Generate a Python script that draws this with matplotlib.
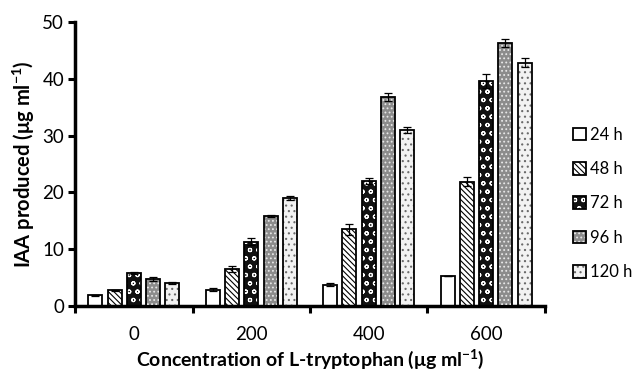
import numpy as np
import matplotlib
matplotlib.use('Agg')
from matplotlib import pyplot as plt
from matplotlib.patches import Patch
from matplotlib.legend_handler import HandlerTuple

plt.rcParams['font.family'] = ['Lato', 'DejaVu Sans']
plt.rcParams['mathtext.fontset'] = 'custom'
plt.rcParams['mathtext.rm'] = 'Lato'
plt.rcParams['mathtext.bf'] = 'Lato:bold'
plt.rcParams['hatch.linewidth'] = 0.8

# Data
concentrations = ['0', '200', '400', '600']
hours = ['24 h', '48 h', '72 h', '96 h', '120 h']
iaa_24 = [1.9, 2.9, 3.8, 5.3]
iaa_48 = [2.8, 6.5, 13.5, 21.9]
iaa_72 = [5.8, 11.3, 22.0, 39.6]
iaa_96 = [4.8, 15.9, 36.7, 46.3]
iaa_120 = [4.1, 19.0, 31.0, 42.8]
err_24 = [0.1, 0.3, 0.2, 0.0]
err_48 = [0.1, 0.5, 1.0, 0.8]
err_72 = [0.2, 0.6, 0.6, 1.2]
err_96 = [0.4, 0.2, 0.7, 0.7]
err_120 = [0.2, 0.4, 0.5, 0.8]
iaa = [iaa_24, iaa_48, iaa_72, iaa_96, iaa_120]
err = [err_24, err_48, err_72, err_96, err_120]

# styles: facecolor, hatch, hatch colour
styles = [
    ('white', '', 'black'),
    ('white', '\\\\\\\\\\\\', 'black'),
    ('#111111', 'oo', 'white'),
    ('#8c8c8c', '....', '#e8e8e8'),
    ('#f2f2f2', '...', '#6a6a6a'),
]

fig = plt.figure(figsize=(6.32, 3.77), dpi=100)
ax = fig.add_axes([0.119, 0.188, 0.743, 0.754])

x = np.arange(len(concentrations))
step = 0.164
width = 0.12
for i, h in enumerate(hours):
    pos = x + (i - 2) * step
    fc, hatch, hc = styles[i]
    ax.bar(pos, iaa[i], width, color=fc, edgecolor='none', zorder=2)
    if hatch:
        ax.bar(pos, iaa[i], width, color='none', edgecolor=hc, hatch=hatch, linewidth=0, zorder=3)
    ax.bar(pos, iaa[i], width, color='none', edgecolor='black', linewidth=1.3, zorder=4)
    ax.errorbar(pos, iaa[i], yerr=err[i], fmt='none', ecolor='black', elinewidth=0.9,
                capsize=3, capthick=0.9, zorder=5)

ax.set_xlim(-0.5, 3.5)
ax.set_ylim(0, 50)
ax.set_yticks([0, 10, 20, 30, 40, 50])
ax.set_xticks(x)
ax.set_xticklabels(concentrations)
ax.set_xticks([-0.5, 0.5, 1.5, 2.5, 3.5], minor=True)
ax.tick_params(axis='x', which='major', length=0, pad=14, labelsize=13.5)
ax.tick_params(axis='x', which='minor', length=5, width=2.2, direction='out')
ax.tick_params(axis='y', length=5, width=2.2, labelsize=13.5, pad=3)

for s in ['top', 'right']:
    ax.spines[s].set_visible(False)
for s in ['left', 'bottom']:
    ax.spines[s].set_linewidth(2.5)

ax.set_ylabel('IAA produced (\u03bcg ml$^{\\mathbf{-1}}$)', fontsize=14.5, fontweight='bold', labelpad=4)
ax.set_xlabel('Concentration of L-tryptophan (\u03bcg ml$^{\\mathbf{-1}}$)', fontsize=14,
              fontweight='bold', labelpad=3)

handles = []
for i, h in enumerate(hours):
    fc, hatch, hc = styles[i]
    base = Patch(facecolor=fc, edgecolor='none')
    hp = Patch(facecolor='none', edgecolor=hc, hatch=hatch, linewidth=0)
    edge = Patch(facecolor='none', edgecolor='black', linewidth=1.3)
    handles.append((base, hp, edge))
fig.legend(handles=handles, labels=hours, handler_map={tuple: HandlerTuple(ndivide=1)},
           loc='upper left', bbox_to_anchor=(0.906, 0.664), frameon=False, borderpad=0,
           borderaxespad=0, fontsize=12, handlelength=0.8, handleheight=0.8,
           handletextpad=0.25, labelspacing=1.1)

fig.savefig('out.png', dpi=100)
